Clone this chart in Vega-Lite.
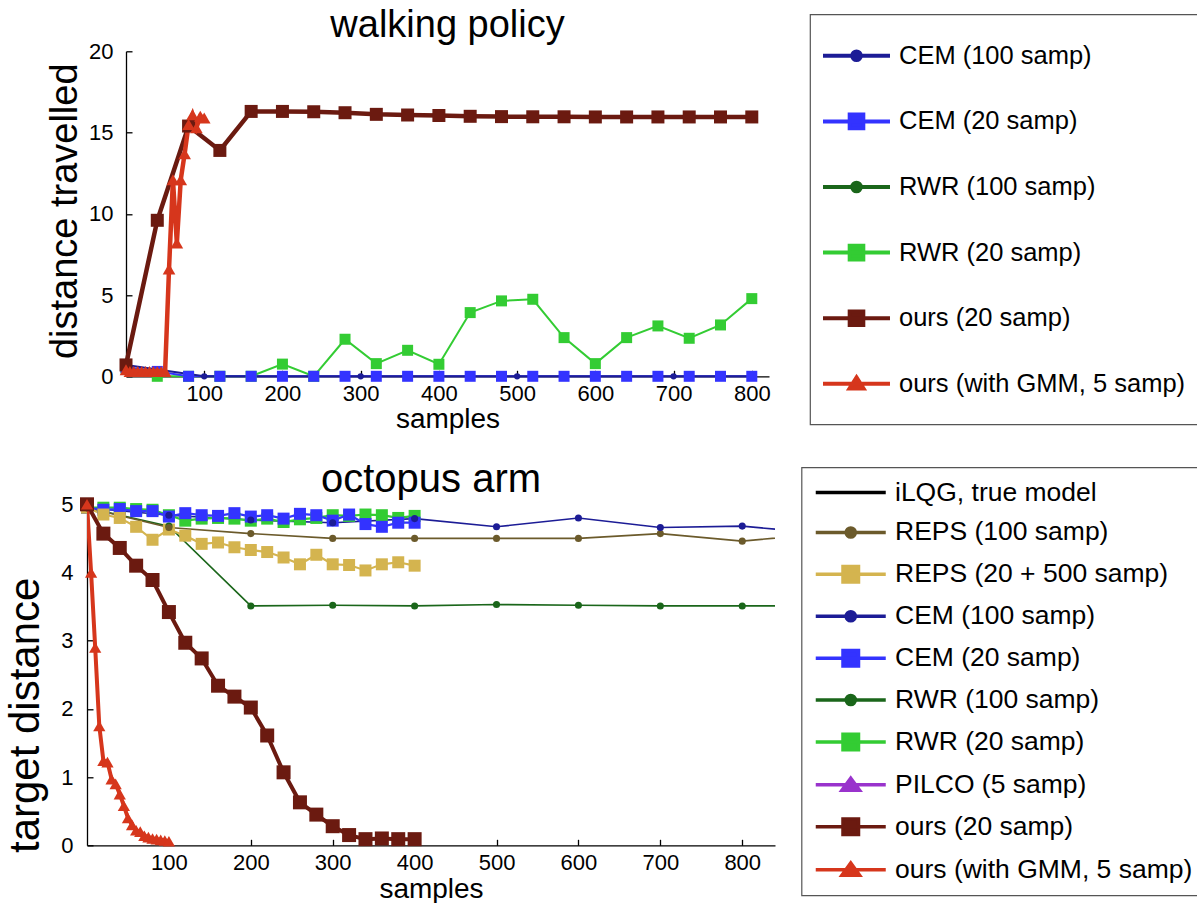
{
  "$schema": "https://vega.github.io/schema/vega-lite/v6.json",
  "background": "white",
  "padding": {"left": 0, "top": 6.3, "right": 0, "bottom": 0},
  "config": {
    "font": "Liberation Sans",
    "view": {"stroke": null},
    "axis": {"domainColor": "black", "domainWidth": 1.3, "tickColor": "black", "tickWidth": 1.3, "tickSize": -6, "labelFont": "Liberation Sans", "labelFontSize": 22, "labelColor": "black", "titleFont": "Liberation Sans", "titleColor": "black", "titleFontWeight": "normal", "grid": false, "labelFlush": false, "labelOverlap": false},
    "title": {"font": "Liberation Sans", "fontSize": 36, "fontWeight": "normal", "color": "black", "baseline": "alphabetic"},
    "legend": {"title": null, "labelFont": "Liberation Sans", "labelFontSize": 25, "labelColor": "black", "labelLimit": 500, "strokeColor": "#555555", "fillColor": "white", "orient": "none"}
  },
  "resolve": {"scale": {"color": "independent"}, "legend": {"color": "independent"}},
  "datasets": {
    "walk": [
      {"series": "RWR (20 samp)", "x": 0, "y": 0.5},
      {"series": "RWR (20 samp)", "x": 40, "y": 0},
      {"series": "RWR (20 samp)", "x": 80, "y": 0},
      {"series": "RWR (20 samp)", "x": 120, "y": 0},
      {"series": "RWR (20 samp)", "x": 160, "y": 0},
      {"series": "RWR (20 samp)", "x": 200, "y": 0.75},
      {"series": "RWR (20 samp)", "x": 240, "y": 0},
      {"series": "RWR (20 samp)", "x": 280, "y": 2.28},
      {"series": "RWR (20 samp)", "x": 320, "y": 0.78},
      {"series": "RWR (20 samp)", "x": 360, "y": 1.6},
      {"series": "RWR (20 samp)", "x": 400, "y": 0.74},
      {"series": "RWR (20 samp)", "x": 440, "y": 3.92},
      {"series": "RWR (20 samp)", "x": 480, "y": 4.64},
      {"series": "RWR (20 samp)", "x": 520, "y": 4.74},
      {"series": "RWR (20 samp)", "x": 560, "y": 2.38},
      {"series": "RWR (20 samp)", "x": 600, "y": 0.78},
      {"series": "RWR (20 samp)", "x": 640, "y": 2.38},
      {"series": "RWR (20 samp)", "x": 680, "y": 3.1},
      {"series": "RWR (20 samp)", "x": 720, "y": 2.34},
      {"series": "RWR (20 samp)", "x": 760, "y": 3.16},
      {"series": "RWR (20 samp)", "x": 800, "y": 4.78},
      {"series": "CEM (20 samp)", "x": 0, "y": 0.55},
      {"series": "CEM (20 samp)", "x": 40, "y": 0.3},
      {"series": "CEM (20 samp)", "x": 80, "y": 0},
      {"series": "CEM (20 samp)", "x": 120, "y": 0},
      {"series": "CEM (20 samp)", "x": 160, "y": 0},
      {"series": "CEM (20 samp)", "x": 200, "y": 0},
      {"series": "CEM (20 samp)", "x": 240, "y": 0},
      {"series": "CEM (20 samp)", "x": 280, "y": 0},
      {"series": "CEM (20 samp)", "x": 320, "y": 0},
      {"series": "CEM (20 samp)", "x": 360, "y": 0},
      {"series": "CEM (20 samp)", "x": 400, "y": 0},
      {"series": "CEM (20 samp)", "x": 440, "y": 0},
      {"series": "CEM (20 samp)", "x": 480, "y": 0},
      {"series": "CEM (20 samp)", "x": 520, "y": 0},
      {"series": "CEM (20 samp)", "x": 560, "y": 0},
      {"series": "CEM (20 samp)", "x": 600, "y": 0},
      {"series": "CEM (20 samp)", "x": 640, "y": 0},
      {"series": "CEM (20 samp)", "x": 680, "y": 0},
      {"series": "CEM (20 samp)", "x": 720, "y": 0},
      {"series": "CEM (20 samp)", "x": 760, "y": 0},
      {"series": "CEM (20 samp)", "x": 800, "y": 0},
      {"series": "CEM (100 samp)", "x": 0, "y": 0.7},
      {"series": "CEM (100 samp)", "x": 100, "y": 0},
      {"series": "CEM (100 samp)", "x": 200, "y": 0},
      {"series": "CEM (100 samp)", "x": 300, "y": 0},
      {"series": "CEM (100 samp)", "x": 400, "y": 0},
      {"series": "CEM (100 samp)", "x": 500, "y": 0},
      {"series": "CEM (100 samp)", "x": 600, "y": 0},
      {"series": "CEM (100 samp)", "x": 700, "y": 0},
      {"series": "CEM (100 samp)", "x": 800, "y": 0},
      {"series": "ours (20 samp)", "x": 0, "y": 0.7},
      {"series": "ours (20 samp)", "x": 40, "y": 9.6},
      {"series": "ours (20 samp)", "x": 80, "y": 15.4},
      {"series": "ours (20 samp)", "x": 120, "y": 13.9},
      {"series": "ours (20 samp)", "x": 160, "y": 16.3},
      {"series": "ours (20 samp)", "x": 200, "y": 16.3},
      {"series": "ours (20 samp)", "x": 240, "y": 16.28},
      {"series": "ours (20 samp)", "x": 280, "y": 16.22},
      {"series": "ours (20 samp)", "x": 320, "y": 16.12},
      {"series": "ours (20 samp)", "x": 360, "y": 16.08},
      {"series": "ours (20 samp)", "x": 400, "y": 16.05},
      {"series": "ours (20 samp)", "x": 440, "y": 16.0},
      {"series": "ours (20 samp)", "x": 480, "y": 15.98},
      {"series": "ours (20 samp)", "x": 520, "y": 15.97},
      {"series": "ours (20 samp)", "x": 560, "y": 15.97},
      {"series": "ours (20 samp)", "x": 600, "y": 15.96},
      {"series": "ours (20 samp)", "x": 640, "y": 15.96},
      {"series": "ours (20 samp)", "x": 680, "y": 15.96},
      {"series": "ours (20 samp)", "x": 720, "y": 15.96},
      {"series": "ours (20 samp)", "x": 760, "y": 15.96},
      {"series": "ours (20 samp)", "x": 800, "y": 15.96},
      {"series": "ours (with GMM, 5 samp)", "x": 0, "y": 0.4},
      {"series": "ours (with GMM, 5 samp)", "x": 5, "y": 0.3},
      {"series": "ours (with GMM, 5 samp)", "x": 10, "y": 0.3},
      {"series": "ours (with GMM, 5 samp)", "x": 15, "y": 0.3},
      {"series": "ours (with GMM, 5 samp)", "x": 20, "y": 0.3},
      {"series": "ours (with GMM, 5 samp)", "x": 25, "y": 0.3},
      {"series": "ours (with GMM, 5 samp)", "x": 30, "y": 0.3},
      {"series": "ours (with GMM, 5 samp)", "x": 35, "y": 0.3},
      {"series": "ours (with GMM, 5 samp)", "x": 40, "y": 0.3},
      {"series": "ours (with GMM, 5 samp)", "x": 45, "y": 0.3},
      {"series": "ours (with GMM, 5 samp)", "x": 50, "y": 0.3},
      {"series": "ours (with GMM, 5 samp)", "x": 55, "y": 6.6},
      {"series": "ours (with GMM, 5 samp)", "x": 60, "y": 12.1},
      {"series": "ours (with GMM, 5 samp)", "x": 65, "y": 8.2},
      {"series": "ours (with GMM, 5 samp)", "x": 70, "y": 12.1},
      {"series": "ours (with GMM, 5 samp)", "x": 75, "y": 13.7},
      {"series": "ours (with GMM, 5 samp)", "x": 80, "y": 15.5},
      {"series": "ours (with GMM, 5 samp)", "x": 85, "y": 16.1},
      {"series": "ours (with GMM, 5 samp)", "x": 90, "y": 15.3},
      {"series": "ours (with GMM, 5 samp)", "x": 95, "y": 16.0},
      {"series": "ours (with GMM, 5 samp)", "x": 100, "y": 15.9}
    ],
    "octo": [
      {"series": "RWR (100 samp)", "x": 0, "y": 4.95},
      {"series": "RWR (100 samp)", "x": 100, "y": 4.68},
      {"series": "RWR (100 samp)", "x": 200, "y": 3.51},
      {"series": "RWR (100 samp)", "x": 300, "y": 3.52},
      {"series": "RWR (100 samp)", "x": 400, "y": 3.51},
      {"series": "RWR (100 samp)", "x": 500, "y": 3.53},
      {"series": "RWR (100 samp)", "x": 600, "y": 3.52},
      {"series": "RWR (100 samp)", "x": 700, "y": 3.51},
      {"series": "RWR (100 samp)", "x": 800, "y": 3.51},
      {"series": "RWR (100 samp)", "x": 900, "y": 3.51},
      {"series": "REPS (100 samp)", "x": 0, "y": 4.95},
      {"series": "REPS (100 samp)", "x": 100, "y": 4.66},
      {"series": "REPS (100 samp)", "x": 200, "y": 4.57},
      {"series": "REPS (100 samp)", "x": 300, "y": 4.5},
      {"series": "REPS (100 samp)", "x": 400, "y": 4.5},
      {"series": "REPS (100 samp)", "x": 500, "y": 4.5},
      {"series": "REPS (100 samp)", "x": 600, "y": 4.5},
      {"series": "REPS (100 samp)", "x": 700, "y": 4.57},
      {"series": "REPS (100 samp)", "x": 800, "y": 4.46},
      {"series": "REPS (100 samp)", "x": 900, "y": 4.57},
      {"series": "RWR (20 samp)", "x": 0, "y": 4.95},
      {"series": "RWR (20 samp)", "x": 20, "y": 4.95},
      {"series": "RWR (20 samp)", "x": 40, "y": 4.95},
      {"series": "RWR (20 samp)", "x": 60, "y": 4.93},
      {"series": "RWR (20 samp)", "x": 80, "y": 4.92},
      {"series": "RWR (20 samp)", "x": 100, "y": 4.84},
      {"series": "RWR (20 samp)", "x": 120, "y": 4.76},
      {"series": "RWR (20 samp)", "x": 140, "y": 4.79},
      {"series": "RWR (20 samp)", "x": 160, "y": 4.8},
      {"series": "RWR (20 samp)", "x": 180, "y": 4.79},
      {"series": "RWR (20 samp)", "x": 200, "y": 4.76},
      {"series": "RWR (20 samp)", "x": 220, "y": 4.79},
      {"series": "RWR (20 samp)", "x": 240, "y": 4.74},
      {"series": "RWR (20 samp)", "x": 260, "y": 4.78},
      {"series": "RWR (20 samp)", "x": 280, "y": 4.8},
      {"series": "RWR (20 samp)", "x": 300, "y": 4.84},
      {"series": "RWR (20 samp)", "x": 320, "y": 4.83},
      {"series": "RWR (20 samp)", "x": 340, "y": 4.85},
      {"series": "RWR (20 samp)", "x": 360, "y": 4.84},
      {"series": "RWR (20 samp)", "x": 380, "y": 4.8},
      {"series": "RWR (20 samp)", "x": 400, "y": 4.83},
      {"series": "CEM (20 samp)", "x": 0, "y": 4.95},
      {"series": "CEM (20 samp)", "x": 20, "y": 4.92},
      {"series": "CEM (20 samp)", "x": 40, "y": 4.93},
      {"series": "CEM (20 samp)", "x": 60, "y": 4.9},
      {"series": "CEM (20 samp)", "x": 80, "y": 4.9},
      {"series": "CEM (20 samp)", "x": 100, "y": 4.82},
      {"series": "CEM (20 samp)", "x": 120, "y": 4.87},
      {"series": "CEM (20 samp)", "x": 140, "y": 4.84},
      {"series": "CEM (20 samp)", "x": 160, "y": 4.83},
      {"series": "CEM (20 samp)", "x": 180, "y": 4.87},
      {"series": "CEM (20 samp)", "x": 200, "y": 4.82},
      {"series": "CEM (20 samp)", "x": 220, "y": 4.84},
      {"series": "CEM (20 samp)", "x": 240, "y": 4.79},
      {"series": "CEM (20 samp)", "x": 260, "y": 4.86},
      {"series": "CEM (20 samp)", "x": 280, "y": 4.84},
      {"series": "CEM (20 samp)", "x": 300, "y": 4.76},
      {"series": "CEM (20 samp)", "x": 320, "y": 4.85},
      {"series": "CEM (20 samp)", "x": 340, "y": 4.71},
      {"series": "CEM (20 samp)", "x": 360, "y": 4.67},
      {"series": "CEM (20 samp)", "x": 380, "y": 4.73},
      {"series": "CEM (20 samp)", "x": 400, "y": 4.73},
      {"series": "CEM (100 samp)", "x": 0, "y": 4.95},
      {"series": "CEM (100 samp)", "x": 100, "y": 4.84},
      {"series": "CEM (100 samp)", "x": 200, "y": 4.77},
      {"series": "CEM (100 samp)", "x": 300, "y": 4.73},
      {"series": "CEM (100 samp)", "x": 400, "y": 4.79},
      {"series": "CEM (100 samp)", "x": 500, "y": 4.67},
      {"series": "CEM (100 samp)", "x": 600, "y": 4.8},
      {"series": "CEM (100 samp)", "x": 700, "y": 4.66},
      {"series": "CEM (100 samp)", "x": 800, "y": 4.68},
      {"series": "CEM (100 samp)", "x": 900, "y": 4.57},
      {"series": "REPS (20 + 500 samp)", "x": 0, "y": 4.95},
      {"series": "REPS (20 + 500 samp)", "x": 20, "y": 4.85},
      {"series": "REPS (20 + 500 samp)", "x": 40, "y": 4.8},
      {"series": "REPS (20 + 500 samp)", "x": 60, "y": 4.67},
      {"series": "REPS (20 + 500 samp)", "x": 80, "y": 4.48},
      {"series": "REPS (20 + 500 samp)", "x": 100, "y": 4.63},
      {"series": "REPS (20 + 500 samp)", "x": 120, "y": 4.54},
      {"series": "REPS (20 + 500 samp)", "x": 140, "y": 4.42},
      {"series": "REPS (20 + 500 samp)", "x": 160, "y": 4.44},
      {"series": "REPS (20 + 500 samp)", "x": 180, "y": 4.37},
      {"series": "REPS (20 + 500 samp)", "x": 200, "y": 4.33},
      {"series": "REPS (20 + 500 samp)", "x": 220, "y": 4.3},
      {"series": "REPS (20 + 500 samp)", "x": 240, "y": 4.22},
      {"series": "REPS (20 + 500 samp)", "x": 260, "y": 4.12},
      {"series": "REPS (20 + 500 samp)", "x": 280, "y": 4.26},
      {"series": "REPS (20 + 500 samp)", "x": 300, "y": 4.12},
      {"series": "REPS (20 + 500 samp)", "x": 320, "y": 4.11},
      {"series": "REPS (20 + 500 samp)", "x": 340, "y": 4.03},
      {"series": "REPS (20 + 500 samp)", "x": 360, "y": 4.12},
      {"series": "REPS (20 + 500 samp)", "x": 380, "y": 4.15},
      {"series": "REPS (20 + 500 samp)", "x": 400, "y": 4.1},
      {"series": "ours (20 samp)", "x": 0, "y": 5.0},
      {"series": "ours (20 samp)", "x": 20, "y": 4.57},
      {"series": "ours (20 samp)", "x": 40, "y": 4.36},
      {"series": "ours (20 samp)", "x": 60, "y": 4.1},
      {"series": "ours (20 samp)", "x": 80, "y": 3.89},
      {"series": "ours (20 samp)", "x": 100, "y": 3.42},
      {"series": "ours (20 samp)", "x": 120, "y": 2.97},
      {"series": "ours (20 samp)", "x": 140, "y": 2.74},
      {"series": "ours (20 samp)", "x": 160, "y": 2.34},
      {"series": "ours (20 samp)", "x": 180, "y": 2.18},
      {"series": "ours (20 samp)", "x": 200, "y": 2.02},
      {"series": "ours (20 samp)", "x": 220, "y": 1.61},
      {"series": "ours (20 samp)", "x": 240, "y": 1.07},
      {"series": "ours (20 samp)", "x": 260, "y": 0.63},
      {"series": "ours (20 samp)", "x": 280, "y": 0.45},
      {"series": "ours (20 samp)", "x": 300, "y": 0.28},
      {"series": "ours (20 samp)", "x": 320, "y": 0.15},
      {"series": "ours (20 samp)", "x": 340, "y": 0.09},
      {"series": "ours (20 samp)", "x": 360, "y": 0.1},
      {"series": "ours (20 samp)", "x": 380, "y": 0.09},
      {"series": "ours (20 samp)", "x": 400, "y": 0.09},
      {"series": "ours (with GMM, 5 samp)", "x": 0, "y": 5.0},
      {"series": "ours (with GMM, 5 samp)", "x": 5, "y": 4.0},
      {"series": "ours (with GMM, 5 samp)", "x": 10, "y": 2.9},
      {"series": "ours (with GMM, 5 samp)", "x": 15, "y": 1.75},
      {"series": "ours (with GMM, 5 samp)", "x": 20, "y": 1.24},
      {"series": "ours (with GMM, 5 samp)", "x": 25, "y": 1.22},
      {"series": "ours (with GMM, 5 samp)", "x": 30, "y": 0.97},
      {"series": "ours (with GMM, 5 samp)", "x": 35, "y": 0.9},
      {"series": "ours (with GMM, 5 samp)", "x": 40, "y": 0.75},
      {"series": "ours (with GMM, 5 samp)", "x": 45, "y": 0.58},
      {"series": "ours (with GMM, 5 samp)", "x": 50, "y": 0.4},
      {"series": "ours (with GMM, 5 samp)", "x": 55, "y": 0.3},
      {"series": "ours (with GMM, 5 samp)", "x": 60, "y": 0.22},
      {"series": "ours (with GMM, 5 samp)", "x": 65, "y": 0.2},
      {"series": "ours (with GMM, 5 samp)", "x": 70, "y": 0.14},
      {"series": "ours (with GMM, 5 samp)", "x": 75, "y": 0.12},
      {"series": "ours (with GMM, 5 samp)", "x": 80, "y": 0.1},
      {"series": "ours (with GMM, 5 samp)", "x": 85, "y": 0.09},
      {"series": "ours (with GMM, 5 samp)", "x": 90, "y": 0.08},
      {"series": "ours (with GMM, 5 samp)", "x": 95, "y": 0.07},
      {"series": "ours (with GMM, 5 samp)", "x": 100, "y": 0.06}
    ]
  },
  "spacing": 26,
  "vconcat": [
    {
      "spacing": 0,
      "resolve": {"scale": {"color": "independent"}, "legend": {"color": "independent"}},
      "hconcat": [
        {"width": 45.8, "height": 1, "data": {"values": []}, "mark": "point", "encoding": {}},
        {
          "width": 643,
          "height": 325,
          "title": {"text": "walking policy", "offset": -31, "fontSize": 38},
          "data": {"name": "walk"},
          "encoding": {
            "x": {"field": "x", "type": "quantitative", "scale": {"domain": [0, 822], "nice": false, "zero": false},
              "axis": {"values": [100, 200, 300, 400, 500, 600, 700, 800], "labelPadding": 13, "title": "samples", "titleFontSize": 28, "titleBaseline": "alphabetic", "titleY": 51}},
            "y": {"field": "y", "type": "quantitative", "scale": {"domain": [0, 20], "nice": false},
              "axis": {"values": [0, 5, 10, 15, 20], "labelPadding": 19, "title": "distance travelled", "titleFontSize": 38, "titleBaseline": "alphabetic", "titleX": -50, "titleY": 159.5}},
            "color": {"field": "series", "type": "nominal",
              "scale": {"domain": ["CEM (100 samp)", "CEM (20 samp)", "RWR (100 samp)", "RWR (20 samp)", "ours (20 samp)", "ours (with GMM, 5 samp)"], "range": ["#1c1c96", "#3333ff", "#1a661a", "#33cc33", "#6b1a10", "#d6361c"]},
              "legend": {"orient": "none", "legendX": 684, "legendY": -37, "padding": 11, "rowPadding": 5.6, "labelOffset": 12, "symbolOffset": 5, "symbolSize": 3249, "symbolStrokeWidth": 4, "labelFontSize": 25.5,
                "encode": {
                  "legend": {"update": {"strokeWidth": {"value": 1.2}}},
                  "symbols": {"update": {
                    "shape": {"signal": "['M13,0M0,-0.75M0,0.75M-1.175,0H1.175M0.151,0A0.151,0.151,0,1,1,-0.151,0A0.151,0.151,0,1,1,0.151,0Z','M13,0M0,-0.75M0,0.75M-1.175,0H1.175M-0.239,-0.239H0.239V0.239H-0.239Z','M13,0M0,-0.75M0,0.75M-1.175,0H1.175M0.151,0A0.151,0.151,0,1,1,-0.151,0A0.151,0.151,0,1,1,0.151,0Z','M13,0M0,-0.75M0,0.75M-1.175,0H1.175M-0.239,-0.239H0.239V0.239H-0.239Z','M13,0M0,-0.75M0,0.75M-1.175,0H1.175M-0.239,-0.239H0.239V0.239H-0.239Z','M13,0M0,-0.75M0,0.75M-1.175,0H1.175M0,-0.225L0.246,0.165L-0.246,0.165Z'][datum.index]"},
                    "fill": {"signal": "['#1c1c96','#3333ff','#1a661a','#33cc33','#6b1a10','#d6361c'][datum.index]"},
                    "stroke": {"signal": "['#1c1c96','#3333ff','#1a661a','#33cc33','#6b1a10','#d6361c'][datum.index]"},
                    "strokeWidth": {"value": 4},
                    "size": {"value": 3249},
                    "opacity": {"value": 1},
                    "fillOpacity": {"value": 1},
                    "strokeOpacity": {"value": 1}
                  }}
                }}}
          },
          "layer": [
            {"transform": [{"filter": {"field": "series", "oneOf": ["CEM (100 samp)", "CEM (20 samp)", "RWR (20 samp)"]}}],
             "mark": {"type": "line", "strokeWidth": 2}},
            {"transform": [{"filter": {"field": "series", "oneOf": ["CEM (100 samp)"]}}],
             "mark": {"type": "point", "filled": true, "opacity": 1, "shape": "circle", "size": 40}},
            {"transform": [{"filter": {"field": "series", "oneOf": ["RWR (20 samp)", "CEM (20 samp)"]}}],
             "mark": {"type": "point", "filled": true, "opacity": 1, "shape": "square", "size": 121}},
            {"transform": [{"filter": {"field": "series", "oneOf": ["ours (20 samp)", "ours (with GMM, 5 samp)"]}}],
             "mark": {"type": "line", "strokeWidth": 4.5}},
            {"transform": [{"filter": {"field": "series", "oneOf": ["ours (20 samp)"]}}],
             "mark": {"type": "point", "filled": true, "opacity": 1, "shape": "square", "size": 169}},
            {"transform": [{"filter": {"field": "series", "oneOf": ["ours (with GMM, 5 samp)"]}}],
             "mark": {"type": "point", "filled": true, "opacity": 1, "shape": "triangle-up", "size": 160}}
          ]
        }
      ]
    },
    {
      "spacing": 0,
      "resolve": {"scale": {"color": "independent"}, "legend": {"color": "independent"}},
      "hconcat": [
        {"width": 3.9, "height": 1, "data": {"values": []}, "mark": "point", "encoding": {}},
        {
          "width": 688,
          "height": 341,
          "title": {"text": "octopus arm", "offset": -33.5, "fontSize": 40},
          "data": {"name": "octo"},
          "encoding": {
            "x": {"field": "x", "type": "quantitative", "scale": {"domain": [0, 840], "nice": false, "zero": false},
              "axis": {"values": [100, 200, 300, 400, 500, 600, 700, 800], "labelPadding": 13, "title": "samples", "titleFontSize": 28, "titleBaseline": "alphabetic", "titleY": 52}},
            "y": {"field": "y", "type": "quantitative", "scale": {"domain": [0, 5], "nice": false},
              "axis": {"values": [0, 1, 2, 3, 4, 5], "labelPadding": 20, "title": "target distance", "titleFontSize": 42, "titleBaseline": "alphabetic", "titleX": -48.5, "titleY": 210.5}},
            "color": {"field": "series", "type": "nominal",
              "scale": {"domain": ["iLQG, true model", "REPS (100 samp)", "REPS (20 + 500 samp)", "CEM (100 samp)", "CEM (20 samp)", "RWR (100 samp)", "RWR (20 samp)", "PILCO (5 samp)", "ours (20 samp)", "ours (with GMM, 5 samp)"], "range": ["#000000", "#6b5a2b", "#d4b44f", "#1c1c96", "#3333ff", "#1a661a", "#33cc33", "#9933cc", "#6b1a10", "#d6361c"]},
              "legend": {"orient": "none", "legendX": 714.5, "legendY": -37, "padding": 12, "rowPadding": 12.9, "labelOffset": 31, "symbolOffset": 24, "symbolSize": 484, "symbolStrokeWidth": 3.5, "labelFontSize": 26.5,
                "encode": {
                  "legend": {"update": {"strokeWidth": {"value": 1.2}}},
                  "symbols": {"update": {
                    "shape": {"signal": "['M34,0M-3.182,0H3.182','M34,0M-3.182,0H3.182M0.414,0A0.414,0.414,0,1,1,-0.414,0A0.414,0.414,0,1,1,0.414,0Z','M34,0M-3.182,0H3.182M-0.705,-0.705H0.705V0.705H-0.705Z','M34,0M-3.182,0H3.182M0.414,0A0.414,0.414,0,1,1,-0.414,0A0.414,0.414,0,1,1,0.414,0Z','M34,0M-3.182,0H3.182M-0.705,-0.705H0.705V0.705H-0.705Z','M34,0M-3.182,0H3.182M0.414,0A0.414,0.414,0,1,1,-0.414,0A0.414,0.414,0,1,1,0.414,0Z','M34,0M-3.182,0H3.182M-0.705,-0.705H0.705V0.705H-0.705Z','M34,0M-3.182,0H3.182M0,-0.6L0.8,0.5L-0.8,0.5Z','M34,0M-3.182,0H3.182M-0.705,-0.705H0.705V0.705H-0.705Z','M34,0M-3.182,0H3.182M0,-0.6L0.8,0.5L-0.8,0.5Z'][datum.index]"},
                    "fill": {"signal": "['#000000','#6b5a2b','#d4b44f','#1c1c96','#3333ff','#1a661a','#33cc33','#9933cc','#6b1a10','#d6361c'][datum.index]"},
                    "stroke": {"signal": "['#000000','#6b5a2b','#d4b44f','#1c1c96','#3333ff','#1a661a','#33cc33','#9933cc','#6b1a10','#d6361c'][datum.index]"},
                    "strokeWidth": {"value": 3.5},
                    "size": {"value": 484},
                    "opacity": {"value": 1},
                    "fillOpacity": {"value": 1},
                    "strokeOpacity": {"value": 1}
                  }}
                }}}
          },
          "layer": [
            {"transform": [{"filter": {"field": "series", "oneOf": ["RWR (100 samp)", "REPS (100 samp)", "CEM (100 samp)"]}}],
             "mark": {"type": "line", "strokeWidth": 1.6, "clip": true}},
            {"transform": [{"filter": {"field": "series", "oneOf": ["RWR (20 samp)", "CEM (20 samp)", "REPS (20 + 500 samp)"]}}],
             "mark": {"type": "line", "strokeWidth": 2.2, "clip": true}},
            {"transform": [{"filter": {"field": "series", "oneOf": ["RWR (20 samp)", "CEM (20 samp)", "REPS (20 + 500 samp)"]}}],
             "mark": {"type": "point", "filled": true, "opacity": 1, "shape": "square", "size": 144}},
            {"transform": [{"filter": {"field": "series", "oneOf": ["RWR (100 samp)", "REPS (100 samp)", "CEM (100 samp)"]}}, {"filter": "datum.x <= 840"}],
             "mark": {"type": "point", "filled": true, "opacity": 1, "shape": "circle", "size": 50}},
            {"transform": [{"filter": {"field": "series", "oneOf": ["ours (20 samp)", "ours (with GMM, 5 samp)"]}}],
             "mark": {"type": "line", "strokeWidth": 4, "clip": true}},
            {"transform": [{"filter": {"field": "series", "oneOf": ["ours (20 samp)"]}}],
             "mark": {"type": "point", "filled": true, "opacity": 1, "shape": "square", "size": 196}},
            {"transform": [{"filter": {"field": "series", "oneOf": ["ours (with GMM, 5 samp)"]}}],
             "mark": {"type": "point", "filled": true, "opacity": 1, "shape": "triangle-up", "size": 150}}
          ]
        }
      ]
    }
  ]
}
